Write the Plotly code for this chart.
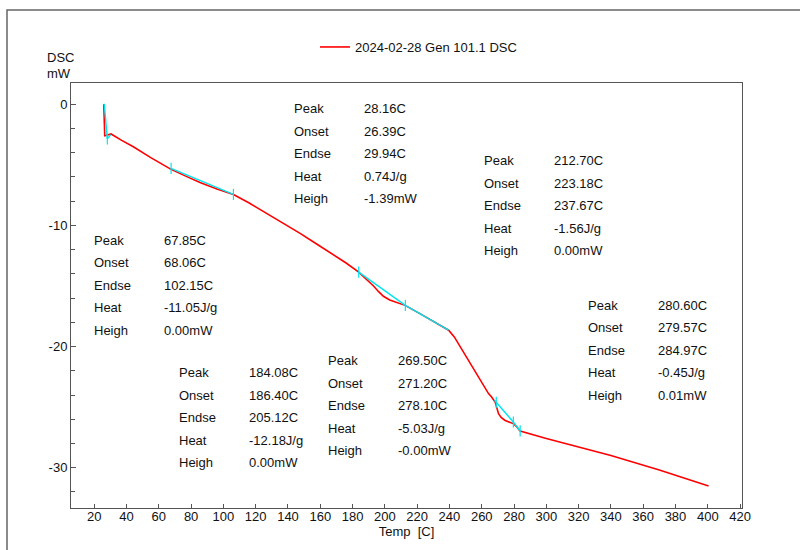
import plotly.graph_objects as go

# ---- data ----
temp = [25.9, 26.0, 26.2, 26.5, 27.2, 28.5, 30.4, 37, 44.2, 55, 67.6, 77, 85.5, 96, 106.2,
        116, 126.9, 137, 147.5, 158, 168.1, 176, 183.6, 188.8, 193, 196, 199.1, 203, 208.4,
        212.5, 222, 230.9, 236, 239.5, 243, 246.6, 252, 259.0, 264.2, 266, 268.3, 270.4, 272,
        274.5, 277, 279.6, 281.5, 283.8, 300, 340, 370, 400.5]
dsc = [0.0, -1.5, -2.4, -2.6, -2.58, -2.52, -2.45, -2.98, -3.50, -4.40, -5.37, -5.95, -6.45,
       -7.0, -7.44, -8.15, -9.01, -9.83, -10.66, -11.55, -12.40, -13.1, -13.83, -14.45, -15.0,
       -15.45, -15.85, -16.15, -16.4, -16.6, -17.3, -18.0, -18.35, -18.65, -19.2, -20.0, -21.2,
       -22.64, -23.88, -24.15, -24.58, -25.54, -25.85, -26.1, -26.2, -26.36, -26.6, -26.97,
       -27.6, -29.0, -30.2, -31.52]

base_t = [26.2, 28.1, 30.2, None, 67.6, 106.2, None, 183.8, 212.7, None, 212.7, 239.5, None,
          267.9, 279.6, None, 279.6, 283.8]
base_v = [0.05, -2.85, -2.5, None, -5.29, -7.44, None, -13.85, -16.6, None, -16.6, -18.65, None,
          -24.44, -26.23, None, -26.23, -26.97]
tick_t = [28.1, 67.6, 106.2, 183.8, 212.7, 269.0, 279.6, 283.8]
tick_v = [-2.85, -5.29, -7.44, -13.85, -16.6, -24.6, -26.23, -26.97]

labels = ["Peak", "Onset", "Endse", "Heat", "Heigh"]
peak_values = [
    ["28.16C", "26.39C", "29.94C", "0.74J/g", "-1.39mW"],
    ["212.70C", "223.18C", "237.67C", "-1.56J/g", "0.00mW"],
    ["67.85C", "68.06C", "102.15C", "-11.05J/g", "0.00mW"],
    ["184.08C", "186.40C", "205.12C", "-12.18J/g", "0.00mW"],
    ["269.50C", "271.20C", "278.10C", "-5.03J/g", "-0.00mW"],
    ["280.60C", "279.57C", "284.97C", "-0.45J/g", "0.01mW"],
]
legend_name = "2024-02-28 Gen 101.1 DSC"
x_ticks = list(range(20, 421, 20))
y_ticks = [0, -10, -20, -30]

# ---- layout geometry (pixels) ----
W, H = 800, 550
L, R, T, B = 71, 742, 83, 508
def px(xp):
    return (xp - L) / (R - L)
def py(yp):
    return 1 - (yp - T) / (B - T)

block_pos = [(291.5, 108.5), (481.5, 160.5), (91.5, 240), (177, 372.5), (326, 360.5), (586, 305)]
row_gap = 22.6
col_gap = 70

FONT = "Liberation Sans, Arial, sans-serif"

fig = go.Figure()
fig.add_trace(go.Scatter(x=temp, y=dsc, mode="lines", name=legend_name,
                         line=dict(color="#ff0000", width=1.6)))
fig.add_trace(go.Scatter(x=base_t, y=base_v, mode="lines", showlegend=False,
                         line=dict(color="#00e5f0", width=1.4), connectgaps=False))
fig.add_trace(go.Scatter(x=tick_t, y=tick_v, mode="markers", showlegend=False,
                         marker=dict(symbol="line-ns", size=8,
                                     line=dict(color="#00e5f0", width=1.2))))

ann = []
for (bx, by), vals in zip(block_pos, peak_values):
    for i, (lab, val) in enumerate(zip(labels, vals)):
        yy = by + i * row_gap
        ann.append(dict(x=px(bx), y=py(yy), xref="paper", yref="paper", text=lab,
                        showarrow=False, xanchor="left", yanchor="middle",
                        font=dict(size=13, color="#111", family=FONT)))
        ann.append(dict(x=px(bx + col_gap), y=py(yy), xref="paper", yref="paper", text=val,
                        showarrow=False, xanchor="left", yanchor="middle",
                        font=dict(size=13, color="#111", family=FONT)))
ann.append(dict(x=px(45), y=py(58), xref="paper", yref="paper", text="DSC", showarrow=False,
                xanchor="left", yanchor="middle", font=dict(size=13, color="#111", family=FONT)))
ann.append(dict(x=px(45), y=py(74), xref="paper", yref="paper", text="mW", showarrow=False,
                xanchor="left", yanchor="middle", font=dict(size=13, color="#111", family=FONT)))

fig.update_layout(
    width=W, height=H,
    margin=dict(l=L, r=W - R, t=T, b=H - B),
    paper_bgcolor="white", plot_bgcolor="white",
    font=dict(family=FONT, size=13, color="#111"),
    annotations=ann,
    showlegend=True,
    legend=dict(x=px(315), y=py(47), xanchor="left", yanchor="middle",
                bgcolor="rgba(0,0,0,0)", font=dict(size=13, family=FONT)),
    shapes=[dict(type="rect", xref="paper", yref="paper",
                 x0=px(7), x1=px(900), y0=py(700), y1=py(10),
                 line=dict(color="#666", width=1.5))],
)
fig.update_xaxes(range=[5.6, 421.2], tickvals=x_ticks, ticktext=[str(v) for v in x_ticks],
                 showline=True, linecolor="#555", linewidth=1, mirror=True,
                 ticks="inside", ticklen=4, tickcolor="#555", showgrid=False, zeroline=False,
                 ticklabelstandoff=-4,
                 title=dict(text="Temp  [C]", standoff=0, font=dict(size=13, family=FONT)),
                 tickfont=dict(size=13, family=FONT))
fig.update_yaxes(range=[-33.33, 1.76], tickvals=y_ticks, ticktext=[str(v) for v in y_ticks],
                 showline=True, linecolor="#555", linewidth=1, mirror=True,
                 ticks="inside", ticklen=5, tickcolor="#555", showgrid=False, zeroline=False,
                 minor=dict(dtick=2, tick0=0, ticks="inside", ticklen=4, tickcolor="#555", showgrid=False),
                 tickfont=dict(size=13, family=FONT))

fig.write_html("out.html", config={"displayModeBar": False},
               post_script="document.body.style.margin='0px';document.body.style.overflow='hidden';")
